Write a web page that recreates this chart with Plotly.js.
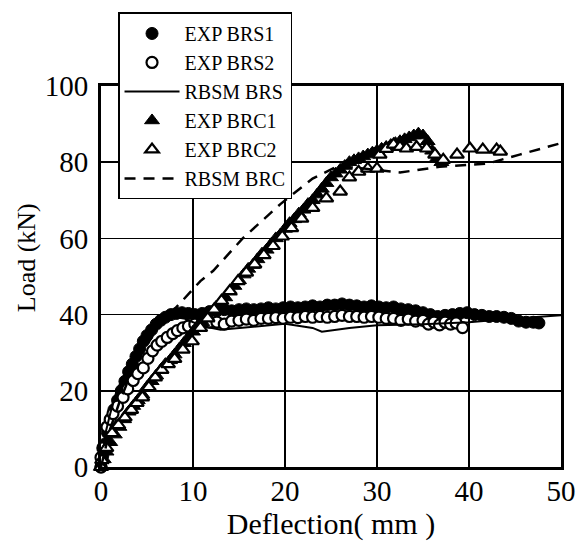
<!DOCTYPE html>
<html>
<head>
<meta charset="utf-8">
<script src="https://cdn.plot.ly/plotly-3.0.1.min.js"></script>
<style>html,body{margin:0;padding:0;background:#fff;}#chart{width:579px;height:541px;}</style>
</head>
<body>
<div id="chart"></div>
<script>
// EXP BRS1 (filled circles)
var brs1X = [0,0.2,0.4,0.7,1,1.4,1.8,2.2,2.6,3,3.4,3.8,4.2,4.6,5,5.5,6,6.5,7,7.6,8.2,8.8,9.5,10.2,11,11.8,12.6,13.4,14.2,15,15.8,16.6,17.4,18.2,19,19.8,20.6,21.4,22.2,23,23.8,24.6,25.4,26.2,27,27.8,28.6,29.4,30.2,31,31.8,32.6,33.4,34.2,35,35.8,36.6,37.4,38.2,39,39.8,40.6,41.4,42.2,43,43.8,44.6,45.4,46.2,47,47.6];
var brs1Y = [0,3,6,9,12,15,17.5,20,22.5,25,27,29,31,33,34.5,36,37.5,38.5,39.3,40,40.3,40.5,40.3,40,40.3,40.8,41,41.3,41,41.3,41.5,41.3,41.5,41.8,41.5,41.8,42,41.8,42,42.3,42,42.5,42.5,42.8,42.5,42.3,42,42.3,42,41.8,42,41.5,41.3,41,40.5,40,39.5,39.8,40,40.3,40.5,40,39.8,39.5,39.5,39.3,39,38.3,38,38,37.8];
// EXP BRS2 (open circles)
var brs2X = [0,0,0.2,0.65,1,1.3,1.8,2.4,2.9,3.5,4,4.6,5.1,5.6,6.1,6.6,7.2,7.8,8.3,8.9,9.5,10.2,11,11.8,12.6,13.4,14.2,15,15.8,16.6,17.4,18.2,19,19.8,20.6,21.4,22.2,23,23.8,24.6,25.4,26.2,27,27.8,28.6,29.4,30.2,31,31.8,32.6,33.4,34.2,35,35.6,36.2,36.8,37.4,38,38.6,39.3];
var brs2Y = [0,2.5,5,10.5,12.5,14,16,18.3,20.5,22.7,24.5,26,28.5,30.5,32,33,34,35,35.8,36.5,37,37.5,37.8,38,38,37.5,38.3,38.5,38.8,38.5,39,39,39.2,39,39.3,39.2,39.5,39.3,39.5,39.3,39.5,39.8,39.5,39.5,39.3,39.5,39.3,39,39,38.5,38.8,38.3,38.5,37.5,38,37.3,38,37.5,37.8,36.6];
// RBSM BRS (solid line)
var rbsmBrsX = [0,0.5,1,1.7,2.7,3.7,5,5.8,7,8,9,10,11,13,15,18,20,23,24,27,30,35,40,45,50];
var rbsmBrsY = [0,9,14,20,25,29,35,37.5,39,39.5,39,38,37,36,36.5,37.3,37.6,36.5,35.5,36.5,37.2,37.5,38,39,39.8];
// EXP BRC1 (filled triangles)
var brc1X = [0,0.3,0.6,1,1.5,2,2.5,3,3.5,4,4.5,5,5.5,6,6.5,7,7.5,8,8.5,9,9.5,10,10.5,11,11.5,12,12.5,13,13.5,14,14.5,15,15.5,16,16.5,17,17.5,18,18.5,19,19.5,20,20.5,21,21.5,22,22.5,23,23.5,24,24.5,25,25.5,26,26.5,27,27.5,28,28.5,29,29.5,30,30.5,31,31.5,32,32.5,33,33.5,34,34.5,35,35.5,36,36.5,37];
var brc1Y = [0,2,4,6.5,8.5,10.5,12.5,14.5,16,17.5,19,21,22.5,24,25.5,27,28,29.5,31,32.5,34,35.5,37,38,39.5,40.5,42,43,44.5,46,47.5,49,50.5,52,53,54.5,56,57,58.5,60,61,62.5,64,65,66.5,67.5,69,70,71.5,73,74.5,76,77,78,79,80,80.5,81,81.5,82,82.5,83,83.5,84,84.5,85,85.5,86,86.5,87,87.5,87,85.5,83,81,80];
// EXP BRC2 (open triangles)
var brc2X = [0,0.1,0.6,1.2,1.9,2.6,3.3,3.9,4.5,5.2,5.9,6.6,7.3,8,8.9,9.9,10.8,11.6,12.3,13.1,14,14.9,15.8,16.7,17.7,18.7,19.7,20.7,21.8,23,24.5,26,27,28,29,30,30.3,31,31.8,32.5,33.2,34.3,35.4,36.3,37.2,38.7,40.1,41.5,43,43.4];
var brc2Y = [0,1.8,5,8.9,11,13,15,16.8,18.3,21,23.5,25.5,27,28.4,30.8,33,36.5,39,41.3,43.6,46.2,48.8,51,53.2,55.6,58,60.5,62.7,65.2,68,70.5,72.3,76,77.5,78.3,78.3,82,83.5,84.6,84,83.6,84,83.6,82,80.6,82,83.6,83.3,83.3,82.8];
// RBSM BRC (dashed line)
var rbsmBrcX = [0,1,2,3,4,5,6,7,8.6,10.8,12.2,15.4,19.5,23,25.6,28,30,32.5,36.8,42,45.5,50];
var rbsmBrcY = [0,10,17,23,28,32,36,39,43,48.8,51.5,60,69,75.7,78.8,78.5,78,77.3,78.8,79.6,82,85];

var xTicks = [0,10,20,30,40,50];
var yTicks = [0,20,40,60,80,100];
var xTitle = "Deflection( mm )";
var yTitle = "Load (kN)";

var F = "Liberation Serif, Times New Roman, serif";
var traces = [
  {name:"EXP BRS1", x:brs1X, y:brs1Y, mode:"markers", cliponaxis:false,
   marker:{symbol:"circle", size:12, color:"#000", line:{color:"#000", width:1}}},
  {name:"EXP BRS2", x:brs2X, y:brs2Y, mode:"markers", cliponaxis:false,
   marker:{symbol:"circle", size:11, color:"#fff", line:{color:"#000", width:2.2}}},
  {name:"RBSM BRS", x:rbsmBrsX, y:rbsmBrsY, mode:"lines", cliponaxis:false,
   line:{color:"#000", width:2}},
  {name:"EXP BRC1", x:brc1X, y:brc1Y, mode:"markers", cliponaxis:false,
   marker:{symbol:"triangle-up", size:13, color:"#000", line:{color:"#000", width:1}}},
  {name:"EXP BRC2", x:brc2X, y:brc2Y, mode:"markers", cliponaxis:false,
   marker:{symbol:"triangle-up", size:12, color:"#fff", line:{color:"#000", width:2.2}}},
  {name:"RBSM BRC", x:rbsmBrcX, y:rbsmBrcY, mode:"lines", cliponaxis:false,
   line:{color:"#000", width:2.5, dash:"11px,8px"}}
];

var axisCommon = {
  showline:true, linecolor:"#000", linewidth:3, mirror:true,
  showgrid:true, gridcolor:"#000", gridwidth:1.6,
  zeroline:false, ticks:"", fixedrange:true,
  tickfont:{family:F, size:29, color:"#000"}
};

var layout = {
  width:579, height:541,
  margin:{l:101, r:18, t:84, b:74},
  paper_bgcolor:"#fff", plot_bgcolor:"#fff",
  font:{family:F, color:"#000"},
  showlegend:true,
  xaxis:Object.assign({}, axisCommon, {
    range:[0,50], tickvals:xTicks, ticktext:xTicks.map(String), ticklabelstandoff:-4,
    title:{text:xTitle, font:{family:F, size:30, color:"#000"}, standoff:14}
  }),
  yaxis:Object.assign({}, axisCommon, {
    range:[0,100], tickvals:yTicks, ticktext:yTicks.map(String), ticklabelstandoff:4
  }),
  annotations:[{
    text:yTitle, xref:"paper", yref:"paper", x:-0.163, y:0.548,
    xanchor:"center", yanchor:"middle", textangle:-90, showarrow:false,
    font:{family:F, size:26, color:"#000"}
  }],
  legend:{
    x:0.037, y:1.193, xanchor:"left", yanchor:"top",
    bgcolor:"#fff", bordercolor:"#000", borderwidth:1.5,
    font:{family:F, size:20, color:"#000"},
    itemwidth:55, tracegroupgap:0, itemclick:false, itemdoubleclick:false
  }
};

Plotly.newPlot("chart", traces, layout, {staticPlot:true, displayModeBar:false});
</script>
</body>
</html>
